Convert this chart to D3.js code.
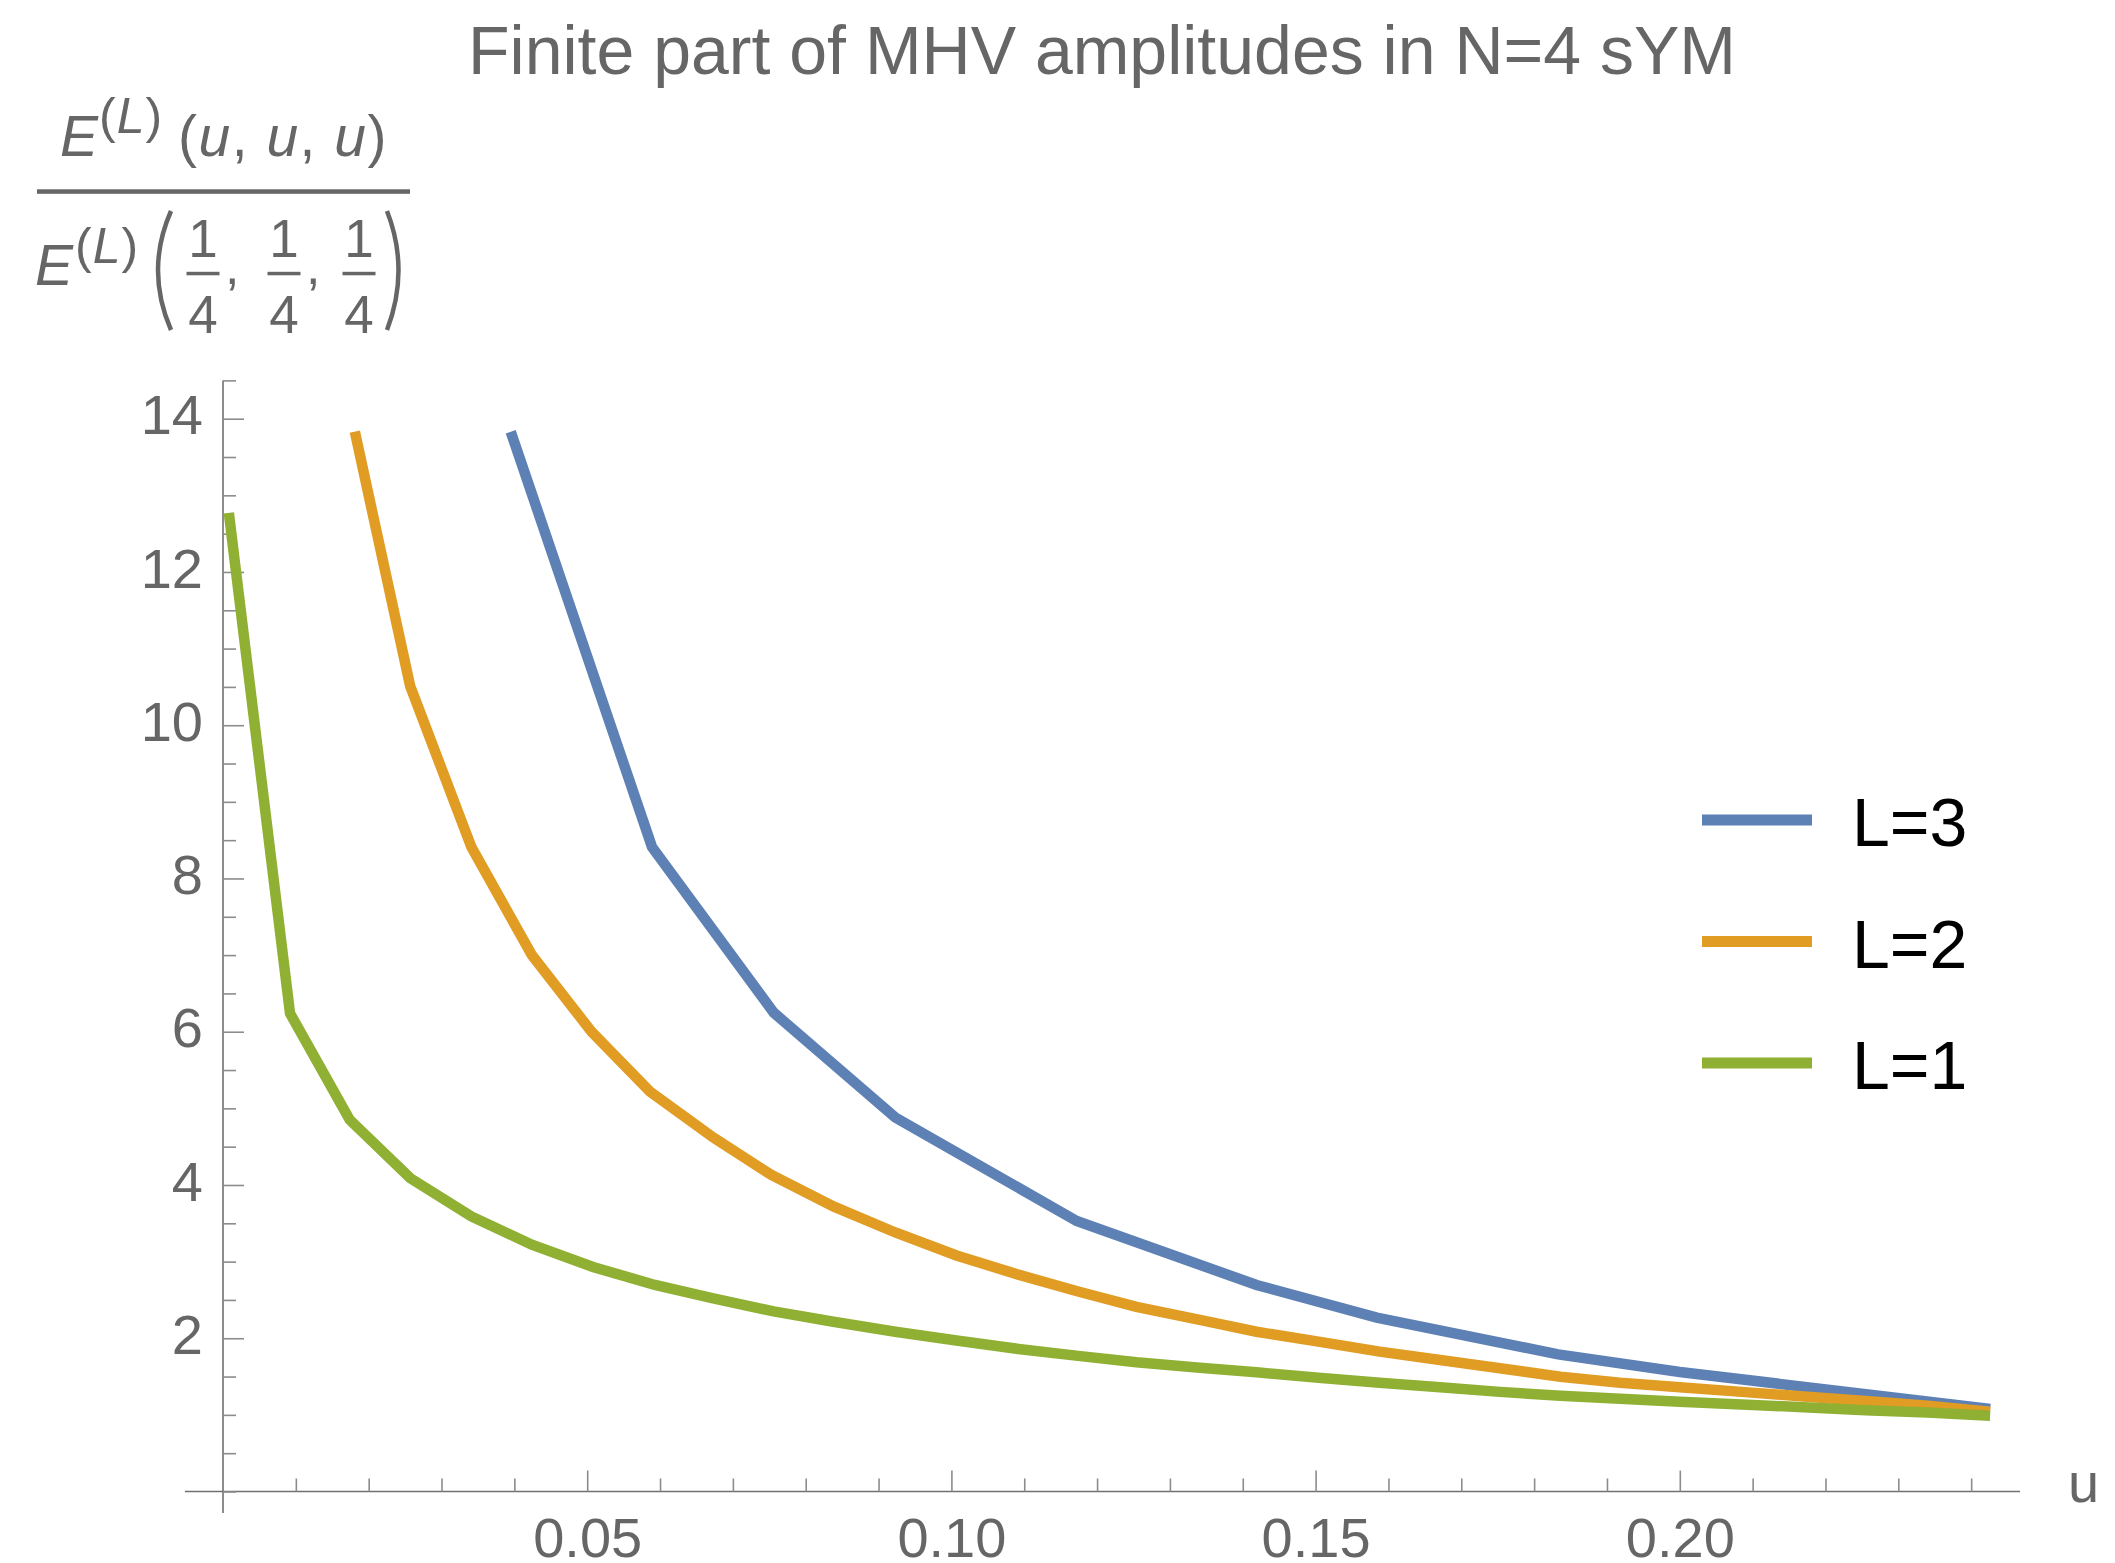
<!DOCTYPE html>
<html>
<head>
<meta charset="utf-8">
<script src="https://cdn.jsdelivr.net/npm/d3@7"></script>
<style>
  body { margin: 0; background: #fff; }
  svg { display: block; font-family: "Liberation Sans", Arial, sans-serif; }
</style>
</head>
<body>
<script>
var width = 2115,
    height = 1563;

// values (u, ratio); L=2 and L=3 start where the plot range cuts them
var l3U = [0.0395, 0.0589, 0.0756, 0.0923, 0.1172, 0.1419, 0.1584, 0.1833, 0.2000, 0.2426];
var l3V = [13.83, 8.41, 6.25, 4.88, 3.53, 2.695, 2.27, 1.79, 1.56, 1.077];

var l2U = [0.0181, 0.0257, 0.0341, 0.0424, 0.0506, 0.0586, 0.0673, 0.0753, 0.0838, 0.0923,
           0.1007, 0.1092, 0.1174, 0.1254, 0.1341, 0.1419, 0.1504, 0.1588, 0.1671, 0.1753,
           0.1836, 0.1918, 0.2000, 0.2085, 0.2170, 0.2255, 0.2340, 0.2426];
var l2V = [13.83, 10.51, 8.41, 7.00, 6.00, 5.22, 4.62, 4.13, 3.72, 3.38,
           3.08, 2.83, 2.61, 2.41, 2.24, 2.085, 1.955, 1.825, 1.716, 1.608,
           1.498, 1.42, 1.36, 1.30, 1.24, 1.18, 1.12, 1.04];

var l1U = [0.0008, 0.0092, 0.0174, 0.0257, 0.0341, 0.0424, 0.0508, 0.0593, 0.0673, 0.0756,
           0.0838, 0.0923, 0.1007, 0.1092, 0.1174, 0.1254, 0.1341, 0.1419, 0.1504, 0.1588,
           0.1671, 0.1753, 0.1836, 0.1918, 0.2000, 0.2085, 0.2170, 0.2255, 0.2340, 0.2426];
var l1V = [12.77, 6.24, 4.85, 4.09, 3.59, 3.22, 2.93, 2.695, 2.52, 2.35,
           2.215, 2.085, 1.97, 1.86, 1.77, 1.686, 1.615, 1.555, 1.485, 1.42,
           1.36, 1.30, 1.25, 1.21, 1.17, 1.135, 1.10, 1.06, 1.03, 0.99];

var seriesNames = ["L=3", "L=2", "L=1"];
var seriesColors = ["#5E81B5", "#E19C24", "#8FB032"];

var xMajor = [0.05, 0.10, 0.15, 0.20];
var yMajor = [2, 4, 6, 8, 10, 12, 14];

var x = d3.scaleLinear().domain([0, 0.25]).range([223, 2044]);
var y = d3.scaleLinear().domain([0, 14]).range([1491.5, 418.7]);

var xMinor = d3.range(1, 25).map(function(i) { return i / 100; })
    .filter(function(d) { return Math.round(d * 100) % 5 !== 0; });
var yMinor = d3.range(0, 30).map(function(i) { return i / 2; })
    .filter(function(d) { return yMajor.indexOf(d) < 0; });

var svg = d3.select("body")
    .append("svg")
    .attr("width", width)
    .attr("height", height);

svg.append("rect").attr("width", width).attr("height", height).attr("fill", "#fff");

// title
svg.append("text")
    .attr("x", 1102)
    .attr("y", 74)
    .attr("text-anchor", "middle")
    .attr("font-size", 68)
    .attr("fill", "#666")
    .text("Finite part of MHV amplitudes in N=4 sYM");

// y label: E^(L)(u,u,u) / E^(L)(1/4,1/4,1/4)
var lab = svg.append("g").attr("fill", "#666");

function supL(g, x0, y0) {
    var t = g.append("text").attr("x", x0).attr("y", y0).attr("font-size", 50)
        .attr("letter-spacing", 1);
    t.append("tspan").text("(");
    t.append("tspan").attr("font-style", "italic").text("L");
    t.append("tspan").text(")");
}

lab.append("text").attr("x", 60).attr("y", 156).attr("font-size", 57)
    .attr("font-style", "italic").text("E");
supL(lab, 99, 133);
var args = lab.append("text").attr("x", 178).attr("y", 156).attr("font-size", 57)
    .attr("letter-spacing", 1.5)
    .attr("xml:space", "preserve");
["(", "u", ", ", "u", ", ", "u", ")"].forEach(function(s) {
    var ts = args.append("tspan").text(s);
    if (s === "u") ts.attr("font-style", "italic");
});

lab.append("rect").attr("x", 37).attr("y", 189.3).attr("width", 373).attr("height", 4.5);

lab.append("text").attr("x", 35).attr("y", 285).attr("font-size", 57)
    .attr("font-style", "italic").text("E");
supL(lab, 75, 263);

lab.append("path").attr("d", "M171,211 Q145,270 171,330")
    .attr("fill", "none").attr("stroke", "#666").attr("stroke-width", 4.5);
lab.append("path").attr("d", "M387,211 Q410,270 387,330")
    .attr("fill", "none").attr("stroke", "#666").attr("stroke-width", 4.5);

[203, 284, 359].forEach(function(cx, i) {
    lab.append("text").attr("x", cx).attr("y", 257).attr("font-size", 53)
        .attr("text-anchor", "middle").text("1");
    lab.append("rect").attr("x", cx - 16.5).attr("y", 271.8).attr("width", 33).attr("height", 3.5);
    lab.append("text").attr("x", cx).attr("y", 333).attr("font-size", 53)
        .attr("text-anchor", "middle").text("4");
    if (i < 2) {
        lab.append("text").attr("x", cx + 22).attr("y", 284).attr("font-size", 52).text(",");
    }
});

// axes
var axisCol = "#707070", tickCol = "#8c8c8c";

svg.append("line")
    .attr("x1", 185).attr("x2", 2020)
    .attr("y1", y(0)).attr("y2", y(0))
    .attr("stroke", axisCol).attr("stroke-width", 1.6);
svg.append("line")
    .attr("x1", x(0)).attr("x2", x(0))
    .attr("y1", y(14.5)).attr("y2", y(-0.28))
    .attr("stroke", axisCol).attr("stroke-width", 1.6);

var gxMinor = svg.append("g")
    .attr("transform", "translate(0," + y(0) + ")")
    .call(d3.axisBottom(x).tickValues(xMinor).tickSize(-13).tickFormat(""));
var gxMajor = svg.append("g")
    .attr("transform", "translate(0," + y(0) + ")")
    .call(d3.axisBottom(x).tickValues(xMajor).tickSize(-21).tickPadding(26)
        .tickFormat(d3.format(".2f")));

var gyMinor = svg.append("g")
    .attr("transform", "translate(" + x(0) + ",0)")
    .call(d3.axisLeft(y).tickValues(yMinor).tickSize(-13).tickFormat(""));
var gyMajor = svg.append("g")
    .attr("transform", "translate(" + x(0) + ",0)")
    .call(d3.axisLeft(y).tickValues(yMajor).tickSize(-21).tickPadding(20)
        .tickFormat(d3.format("d")));

[gxMinor, gxMajor, gyMinor, gyMajor].forEach(function(g) {
    g.select(".domain").remove();
    g.selectAll(".tick line").attr("stroke", tickCol).attr("stroke-width", 1.6);
    g.selectAll(".tick text")
        .attr("fill", "#666")
        .attr("font-size", 56)
        .attr("font-family", "Liberation Sans, Arial, sans-serif");
});
gyMajor.selectAll(".tick text").attr("dy", "0.27em");

svg.append("text")
    .attr("x", 2068)
    .attr("y", 1502)
    .attr("font-size", 56)
    .attr("fill", "#666")
    .text("u");

// curves
var line = d3.line()
    .x(function(d) { return x(d[0]); })
    .y(function(d) { return y(d[1]); });

var series = [
    d3.zip(l3U, l3V),
    d3.zip(l2U, l2V),
    d3.zip(l1U, l1V)
];

svg.selectAll("path.curve")
    .data(series)
    .enter()
    .append("path")
    .attr("class", "curve")
    .attr("d", line)
    .attr("fill", "none")
    .attr("stroke", function(d, i) { return seriesColors[i]; })
    .attr("stroke-width", 10.5)
    .attr("stroke-linecap", "butt");

// legend
var legend = svg.selectAll("g.legend")
    .data(seriesNames)
    .enter()
    .append("g")
    .attr("class", "legend")
    .attr("transform", function(d, i) { return "translate(0," + (820 + i * 121.5) + ")"; });

legend.append("line")
    .attr("x1", 1702).attr("x2", 1812)
    .attr("stroke", function(d, i) { return seriesColors[i]; })
    .attr("stroke-width", 11);

legend.append("text")
    .attr("x", 1852)
    .attr("y", 26)
    .attr("font-size", 68)
    .attr("fill", "#000")
    .text(function(d) { return d; });
</script>
</body>
</html>
